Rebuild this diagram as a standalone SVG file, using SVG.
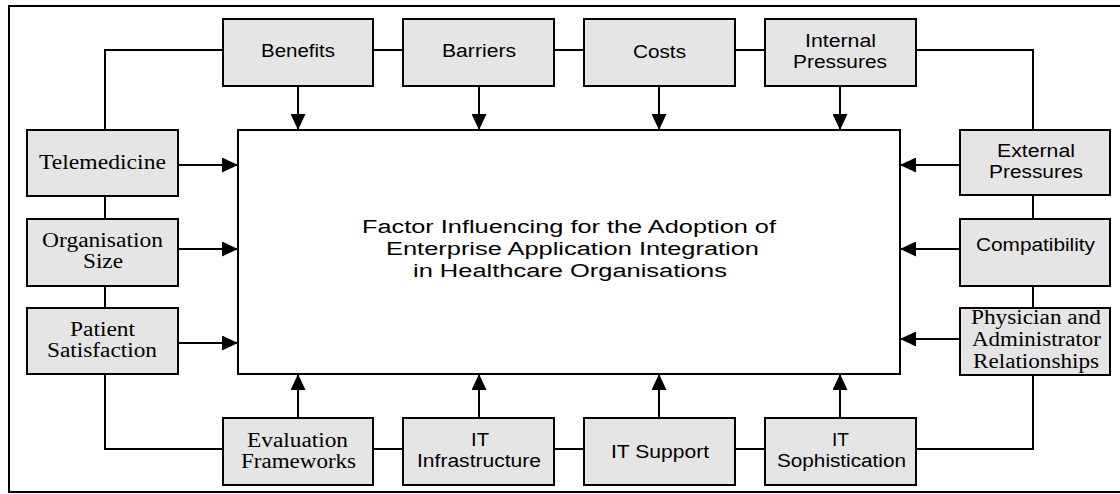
<svg xmlns="http://www.w3.org/2000/svg" width="1120" height="494" viewBox="0 0 1120 494">
<style>
.box{fill:#e5e5e5;stroke:#000;stroke-width:2}
.ln{fill:none;stroke:#000;stroke-width:2}
.s{font-family:"Liberation Sans",Arial,sans-serif;font-size:18px;fill:#000}
.r{font-family:"Liberation Serif","Times New Roman",serif;font-size:20px;fill:#000}
</style>
<defs>
<marker id="ah" markerUnits="userSpaceOnUse" markerWidth="16" markerHeight="15" refX="16" refY="7.5" orient="auto">
<path d="M0,0 L16,7.5 L0,15 Z" fill="#000"/>
</marker>
</defs>
<rect x="9" y="6" width="1120" height="486" fill="#fff" stroke="#000" stroke-width="2"/>
<g id="connectors">
<path class="ln" d="M105,50 H1033 V449 H105 Z"/>
<line class="ln" x1="298" y1="86" x2="298" y2="130" marker-end="url(#ah)"/>
<line class="ln" x1="479" y1="86" x2="479" y2="130" marker-end="url(#ah)"/>
<line class="ln" x1="659" y1="86" x2="659" y2="130" marker-end="url(#ah)"/>
<line class="ln" x1="840" y1="86" x2="840" y2="130" marker-end="url(#ah)"/>
<line class="ln" x1="298" y1="418" x2="298" y2="374" marker-end="url(#ah)"/>
<line class="ln" x1="479" y1="418" x2="479" y2="374" marker-end="url(#ah)"/>
<line class="ln" x1="659" y1="418" x2="659" y2="374" marker-end="url(#ah)"/>
<line class="ln" x1="840" y1="418" x2="840" y2="374" marker-end="url(#ah)"/>
<line class="ln" x1="178" y1="165" x2="238" y2="165" marker-end="url(#ah)"/>
<line class="ln" x1="178" y1="249" x2="238" y2="249" marker-end="url(#ah)"/>
<line class="ln" x1="178" y1="343" x2="238" y2="343" marker-end="url(#ah)"/>
<line class="ln" x1="960" y1="165" x2="900" y2="165" marker-end="url(#ah)"/>
<line class="ln" x1="960" y1="249" x2="900" y2="249" marker-end="url(#ah)"/>
<line class="ln" x1="960" y1="339" x2="900" y2="339" marker-end="url(#ah)"/>
</g>
<g id="center">
<rect x="238" y="130" width="662" height="244" fill="#fff" stroke="#000" stroke-width="2"/>
<text class="s" x="362" y="233" textLength="414" lengthAdjust="spacingAndGlyphs">Factor Influencing for the Adoption of</text>
<text class="s" x="386" y="255" textLength="373" lengthAdjust="spacingAndGlyphs">Enterprise Application Integration</text>
<text class="s" x="413" y="277" textLength="314" lengthAdjust="spacingAndGlyphs">in Healthcare Organisations</text>
</g>
<g id="benefits">
<rect class="box" x="223" y="19" width="150" height="67"/>
<text class="s" x="261" y="57" textLength="74" lengthAdjust="spacingAndGlyphs">Benefits</text>
</g>
<g id="barriers">
<rect class="box" x="403" y="19" width="151" height="67"/>
<text class="s" x="442" y="57" textLength="74" lengthAdjust="spacingAndGlyphs">Barriers</text>
</g>
<g id="costs">
<rect class="box" x="584" y="19" width="151" height="67"/>
<text class="s" x="633" y="58" textLength="53" lengthAdjust="spacingAndGlyphs">Costs</text>
</g>
<g id="internal-pressures">
<rect class="box" x="765" y="19" width="151" height="67"/>
<text class="s" x="805" y="47" textLength="71" lengthAdjust="spacingAndGlyphs">Internal</text>
<text class="s" x="793" y="68" textLength="94" lengthAdjust="spacingAndGlyphs">Pressures</text>
</g>
<g id="external-pressures">
<rect class="box" x="960" y="130" width="150" height="65"/>
<text class="s" x="997" y="157" textLength="78" lengthAdjust="spacingAndGlyphs">External</text>
<text class="s" x="989" y="178" textLength="94" lengthAdjust="spacingAndGlyphs">Pressures</text>
</g>
<g id="compatibility">
<rect class="box" x="960" y="219" width="150" height="67"/>
<text class="s" x="976" y="251" textLength="119" lengthAdjust="spacingAndGlyphs">Compatibility</text>
</g>
<g id="physician">
<rect class="box" x="960" y="308" width="150" height="67"/>
<text class="r" x="971" y="324" textLength="130" lengthAdjust="spacingAndGlyphs">Physician and</text>
<text class="r" x="972" y="346" textLength="129" lengthAdjust="spacingAndGlyphs">Administrator</text>
<text class="r" x="973" y="368" textLength="126" lengthAdjust="spacingAndGlyphs">Relationships</text>
</g>
<g id="telemedicine">
<rect class="box" x="27" y="130" width="151" height="66"/>
<text class="r" x="39" y="169" textLength="127" lengthAdjust="spacingAndGlyphs">Telemedicine</text>
</g>
<g id="organisation-size">
<rect class="box" x="27" y="219" width="151" height="67"/>
<text class="r" x="42" y="247" textLength="121" lengthAdjust="spacingAndGlyphs">Organisation</text>
<text class="r" x="83" y="268" textLength="40" lengthAdjust="spacingAndGlyphs">Size</text>
</g>
<g id="patient-satisfaction">
<rect class="box" x="27" y="308" width="151" height="66"/>
<text class="r" x="70" y="336" textLength="65" lengthAdjust="spacingAndGlyphs">Patient</text>
<text class="r" x="47" y="357" textLength="110" lengthAdjust="spacingAndGlyphs">Satisfaction</text>
</g>
<g id="evaluation-frameworks">
<rect class="box" x="223" y="418" width="150" height="67"/>
<text class="r" x="247" y="447" textLength="101" lengthAdjust="spacingAndGlyphs">Evaluation</text>
<text class="r" x="241" y="468" textLength="115" lengthAdjust="spacingAndGlyphs">Frameworks</text>
</g>
<g id="it-infrastructure">
<rect class="box" x="403" y="418" width="151" height="67"/>
<text class="s" x="471" y="446" textLength="18" lengthAdjust="spacingAndGlyphs">IT</text>
<text class="s" x="417" y="467" textLength="124" lengthAdjust="spacingAndGlyphs">Infrastructure</text>
</g>
<g id="it-support">
<rect class="box" x="584" y="418" width="151" height="67"/>
<text class="s" x="611" y="458" textLength="98" lengthAdjust="spacingAndGlyphs">IT Support</text>
</g>
<g id="it-sophistication">
<rect class="box" x="765" y="418" width="151" height="67"/>
<text class="s" x="832" y="446" textLength="17" lengthAdjust="spacingAndGlyphs">IT</text>
<text class="s" x="777" y="467" textLength="129" lengthAdjust="spacingAndGlyphs">Sophistication</text>
</g>
</svg>
